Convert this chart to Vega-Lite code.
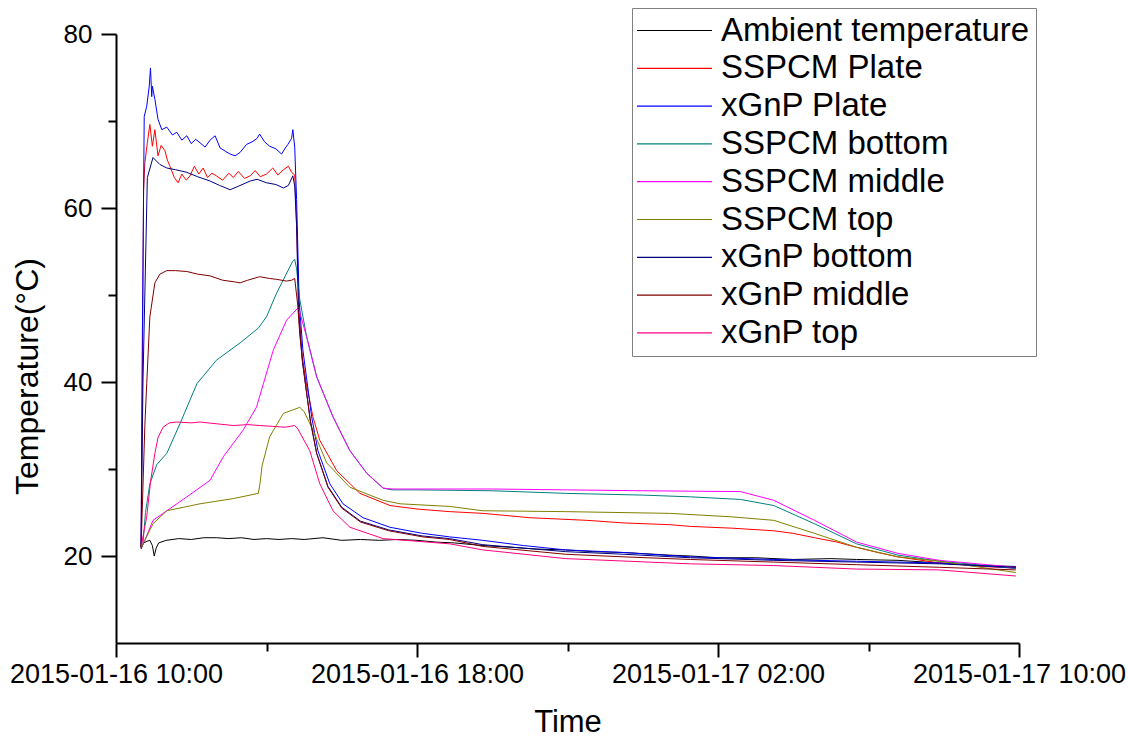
{
  "$schema": "https://vega.github.io/schema/vega-lite/v6.json",
  "autosize": {"type": "none"},
  "padding": {"left": 116, "top": 34, "right": 109, "bottom": 94},
  "width": 903,
  "height": 609,
  "background": "white",
  "config": {"font": "Liberation Sans", "view": {"stroke": null}},
  "data": {"values": [
    {"s":"Ambient temperature","t":"2015-01-16 10:40","v":20.8},
    {"s":"Ambient temperature","t":"2015-01-16 10:44","v":21.5},
    {"s":"Ambient temperature","t":"2015-01-16 10:50","v":21.7},
    {"s":"Ambient temperature","t":"2015-01-16 10:54","v":21.8},
    {"s":"Ambient temperature","t":"2015-01-16 10:58","v":21.2},
    {"s":"Ambient temperature","t":"2015-01-16 11:01","v":20.0},
    {"s":"Ambient temperature","t":"2015-01-16 11:04","v":20.9},
    {"s":"Ambient temperature","t":"2015-01-16 11:08","v":21.5},
    {"s":"Ambient temperature","t":"2015-01-16 11:20","v":21.8},
    {"s":"Ambient temperature","t":"2015-01-16 11:40","v":22.0},
    {"s":"Ambient temperature","t":"2015-01-16 12:00","v":21.9},
    {"s":"Ambient temperature","t":"2015-01-16 12:20","v":22.1},
    {"s":"Ambient temperature","t":"2015-01-16 12:40","v":22.1},
    {"s":"Ambient temperature","t":"2015-01-16 13:00","v":22.0},
    {"s":"Ambient temperature","t":"2015-01-16 13:20","v":22.1},
    {"s":"Ambient temperature","t":"2015-01-16 13:40","v":21.9},
    {"s":"Ambient temperature","t":"2015-01-16 14:00","v":22.0},
    {"s":"Ambient temperature","t":"2015-01-16 14:20","v":21.9},
    {"s":"Ambient temperature","t":"2015-01-16 14:40","v":22.0},
    {"s":"Ambient temperature","t":"2015-01-16 15:00","v":21.9},
    {"s":"Ambient temperature","t":"2015-01-16 15:30","v":22.1},
    {"s":"Ambient temperature","t":"2015-01-16 16:00","v":21.8},
    {"s":"Ambient temperature","t":"2015-01-16 16:30","v":21.9},
    {"s":"Ambient temperature","t":"2015-01-16 17:00","v":21.8},
    {"s":"Ambient temperature","t":"2015-01-16 17:30","v":21.9},
    {"s":"Ambient temperature","t":"2015-01-16 18:00","v":21.8},
    {"s":"Ambient temperature","t":"2015-01-16 18:30","v":21.6},
    {"s":"Ambient temperature","t":"2015-01-16 19:00","v":21.5},
    {"s":"Ambient temperature","t":"2015-01-16 19:45","v":21.2},
    {"s":"Ambient temperature","t":"2015-01-16 20:30","v":21.0},
    {"s":"Ambient temperature","t":"2015-01-16 21:10","v":20.8},
    {"s":"Ambient temperature","t":"2015-01-16 21:57","v":20.7},
    {"s":"Ambient temperature","t":"2015-01-16 22:40","v":20.5},
    {"s":"Ambient temperature","t":"2015-01-16 23:30","v":20.4},
    {"s":"Ambient temperature","t":"2015-01-17 00:43","v":20.1},
    {"s":"Ambient temperature","t":"2015-01-17 01:16","v":20.0},
    {"s":"Ambient temperature","t":"2015-01-17 02:00","v":19.8},
    {"s":"Ambient temperature","t":"2015-01-17 03:00","v":19.8},
    {"s":"Ambient temperature","t":"2015-01-17 04:00","v":19.6},
    {"s":"Ambient temperature","t":"2015-01-17 05:00","v":19.7},
    {"s":"Ambient temperature","t":"2015-01-17 05:41","v":19.6},
    {"s":"Ambient temperature","t":"2015-01-17 06:47","v":19.5},
    {"s":"Ambient temperature","t":"2015-01-17 07:53","v":19.2},
    {"s":"Ambient temperature","t":"2015-01-17 09:00","v":18.9},
    {"s":"Ambient temperature","t":"2015-01-17 09:55","v":18.8},

    {"s":"SSPCM Plate","t":"2015-01-16 10:40","v":21.0},
    {"s":"SSPCM Plate","t":"2015-01-16 10:42","v":40.0},
    {"s":"SSPCM Plate","t":"2015-01-16 10:44","v":62.0},
    {"s":"SSPCM Plate","t":"2015-01-16 10:46","v":65.2},
    {"s":"SSPCM Plate","t":"2015-01-16 10:50","v":67.5},
    {"s":"SSPCM Plate","t":"2015-01-16 10:54","v":69.6},
    {"s":"SSPCM Plate","t":"2015-01-16 10:58","v":67.1},
    {"s":"SSPCM Plate","t":"2015-01-16 11:02","v":69.0},
    {"s":"SSPCM Plate","t":"2015-01-16 11:07","v":66.0},
    {"s":"SSPCM Plate","t":"2015-01-16 11:12","v":67.2},
    {"s":"SSPCM Plate","t":"2015-01-16 11:18","v":66.6},
    {"s":"SSPCM Plate","t":"2015-01-16 11:22","v":65.5},
    {"s":"SSPCM Plate","t":"2015-01-16 11:26","v":64.8},
    {"s":"SSPCM Plate","t":"2015-01-16 11:33","v":63.5},
    {"s":"SSPCM Plate","t":"2015-01-16 11:39","v":62.9},
    {"s":"SSPCM Plate","t":"2015-01-16 11:45","v":63.9},
    {"s":"SSPCM Plate","t":"2015-01-16 11:52","v":63.2},
    {"s":"SSPCM Plate","t":"2015-01-16 11:58","v":63.7},
    {"s":"SSPCM Plate","t":"2015-01-16 12:05","v":64.8},
    {"s":"SSPCM Plate","t":"2015-01-16 12:12","v":63.9},
    {"s":"SSPCM Plate","t":"2015-01-16 12:19","v":64.6},
    {"s":"SSPCM Plate","t":"2015-01-16 12:26","v":63.5},
    {"s":"SSPCM Plate","t":"2015-01-16 12:33","v":64.0},
    {"s":"SSPCM Plate","t":"2015-01-16 12:40","v":63.7},
    {"s":"SSPCM Plate","t":"2015-01-16 12:50","v":63.2},
    {"s":"SSPCM Plate","t":"2015-01-16 13:00","v":64.0},
    {"s":"SSPCM Plate","t":"2015-01-16 13:07","v":63.5},
    {"s":"SSPCM Plate","t":"2015-01-16 13:15","v":64.2},
    {"s":"SSPCM Plate","t":"2015-01-16 13:25","v":63.4},
    {"s":"SSPCM Plate","t":"2015-01-16 13:34","v":63.7},
    {"s":"SSPCM Plate","t":"2015-01-16 13:42","v":64.3},
    {"s":"SSPCM Plate","t":"2015-01-16 13:50","v":63.6},
    {"s":"SSPCM Plate","t":"2015-01-16 14:00","v":63.9},
    {"s":"SSPCM Plate","t":"2015-01-16 14:10","v":64.6},
    {"s":"SSPCM Plate","t":"2015-01-16 14:18","v":63.8},
    {"s":"SSPCM Plate","t":"2015-01-16 14:27","v":64.4},
    {"s":"SSPCM Plate","t":"2015-01-16 14:35","v":64.8},
    {"s":"SSPCM Plate","t":"2015-01-16 14:40","v":64.1},
    {"s":"SSPCM Plate","t":"2015-01-16 14:45","v":63.8},
    {"s":"SSPCM Plate","t":"2015-01-16 14:48","v":58.0},
    {"s":"SSPCM Plate","t":"2015-01-16 14:52","v":48.0},
    {"s":"SSPCM Plate","t":"2015-01-16 14:57","v":43.0},
    {"s":"SSPCM Plate","t":"2015-01-16 15:03","v":40.0},
    {"s":"SSPCM Plate","t":"2015-01-16 15:14","v":36.0},
    {"s":"SSPCM Plate","t":"2015-01-16 15:25","v":33.3},
    {"s":"SSPCM Plate","t":"2015-01-16 15:52","v":29.8},
    {"s":"SSPCM Plate","t":"2015-01-16 16:29","v":27.2},
    {"s":"SSPCM Plate","t":"2015-01-16 17:17","v":25.8},
    {"s":"SSPCM Plate","t":"2015-01-16 18:00","v":25.4},
    {"s":"SSPCM Plate","t":"2015-01-16 18:52","v":25.1},
    {"s":"SSPCM Plate","t":"2015-01-16 19:45","v":24.9},
    {"s":"SSPCM Plate","t":"2015-01-16 21:00","v":24.4},
    {"s":"SSPCM Plate","t":"2015-01-16 22:31","v":24.1},
    {"s":"SSPCM Plate","t":"2015-01-16 23:30","v":23.8},
    {"s":"SSPCM Plate","t":"2015-01-17 00:43","v":23.6},
    {"s":"SSPCM Plate","t":"2015-01-17 01:16","v":23.4},
    {"s":"SSPCM Plate","t":"2015-01-17 02:22","v":23.2},
    {"s":"SSPCM Plate","t":"2015-01-17 03:29","v":22.9},
    {"s":"SSPCM Plate","t":"2015-01-17 04:00","v":22.6},
    {"s":"SSPCM Plate","t":"2015-01-17 04:34","v":22.1},
    {"s":"SSPCM Plate","t":"2015-01-17 05:10","v":21.6},
    {"s":"SSPCM Plate","t":"2015-01-17 05:41","v":21.0},
    {"s":"SSPCM Plate","t":"2015-01-17 06:15","v":20.4},
    {"s":"SSPCM Plate","t":"2015-01-17 06:47","v":19.9},
    {"s":"SSPCM Plate","t":"2015-01-17 07:53","v":19.2},
    {"s":"SSPCM Plate","t":"2015-01-17 09:00","v":18.8},
    {"s":"SSPCM Plate","t":"2015-01-17 09:55","v":18.6},

    {"s":"xGnP Plate","t":"2015-01-16 10:40","v":21.0},
    {"s":"xGnP Plate","t":"2015-01-16 10:42","v":45.0},
    {"s":"xGnP Plate","t":"2015-01-16 10:45","v":70.5},
    {"s":"xGnP Plate","t":"2015-01-16 10:49","v":71.7},
    {"s":"xGnP Plate","t":"2015-01-16 10:53","v":74.0},
    {"s":"xGnP Plate","t":"2015-01-16 10:55","v":76.1},
    {"s":"xGnP Plate","t":"2015-01-16 10:57","v":72.8},
    {"s":"xGnP Plate","t":"2015-01-16 10:58","v":74.0},
    {"s":"xGnP Plate","t":"2015-01-16 11:02","v":72.5},
    {"s":"xGnP Plate","t":"2015-01-16 11:07","v":70.2},
    {"s":"xGnP Plate","t":"2015-01-16 11:13","v":69.0},
    {"s":"xGnP Plate","t":"2015-01-16 11:21","v":69.3},
    {"s":"xGnP Plate","t":"2015-01-16 11:30","v":68.4},
    {"s":"xGnP Plate","t":"2015-01-16 11:37","v":68.7},
    {"s":"xGnP Plate","t":"2015-01-16 11:45","v":67.8},
    {"s":"xGnP Plate","t":"2015-01-16 11:53","v":68.3},
    {"s":"xGnP Plate","t":"2015-01-16 12:00","v":67.4},
    {"s":"xGnP Plate","t":"2015-01-16 12:07","v":67.9},
    {"s":"xGnP Plate","t":"2015-01-16 12:14","v":67.5},
    {"s":"xGnP Plate","t":"2015-01-16 12:22","v":67.0},
    {"s":"xGnP Plate","t":"2015-01-16 12:30","v":67.8},
    {"s":"xGnP Plate","t":"2015-01-16 12:38","v":68.3},
    {"s":"xGnP Plate","t":"2015-01-16 12:46","v":66.9},
    {"s":"xGnP Plate","t":"2015-01-16 12:55","v":66.5},
    {"s":"xGnP Plate","t":"2015-01-16 13:02","v":66.2},
    {"s":"xGnP Plate","t":"2015-01-16 13:10","v":66.0},
    {"s":"xGnP Plate","t":"2015-01-16 13:18","v":66.4},
    {"s":"xGnP Plate","t":"2015-01-16 13:28","v":67.3},
    {"s":"xGnP Plate","t":"2015-01-16 13:37","v":67.6},
    {"s":"xGnP Plate","t":"2015-01-16 13:45","v":68.0},
    {"s":"xGnP Plate","t":"2015-01-16 13:49","v":68.5},
    {"s":"xGnP Plate","t":"2015-01-16 13:57","v":67.6},
    {"s":"xGnP Plate","t":"2015-01-16 14:05","v":67.1},
    {"s":"xGnP Plate","t":"2015-01-16 14:15","v":66.8},
    {"s":"xGnP Plate","t":"2015-01-16 14:24","v":66.2},
    {"s":"xGnP Plate","t":"2015-01-16 14:30","v":66.9},
    {"s":"xGnP Plate","t":"2015-01-16 14:34","v":67.3},
    {"s":"xGnP Plate","t":"2015-01-16 14:40","v":68.0},
    {"s":"xGnP Plate","t":"2015-01-16 14:42","v":69.0},
    {"s":"xGnP Plate","t":"2015-01-16 14:45","v":67.0},
    {"s":"xGnP Plate","t":"2015-01-16 14:48","v":61.0},
    {"s":"xGnP Plate","t":"2015-01-16 14:52","v":49.4},
    {"s":"xGnP Plate","t":"2015-01-16 14:58","v":43.7},
    {"s":"xGnP Plate","t":"2015-01-16 15:12","v":36.0},
    {"s":"xGnP Plate","t":"2015-01-16 15:22","v":32.1},
    {"s":"xGnP Plate","t":"2015-01-16 15:41","v":28.3},
    {"s":"xGnP Plate","t":"2015-01-16 16:02","v":26.0},
    {"s":"xGnP Plate","t":"2015-01-16 16:34","v":24.4},
    {"s":"xGnP Plate","t":"2015-01-16 17:17","v":23.3},
    {"s":"xGnP Plate","t":"2015-01-16 18:09","v":22.6},
    {"s":"xGnP Plate","t":"2015-01-16 18:52","v":22.2},
    {"s":"xGnP Plate","t":"2015-01-16 19:45","v":21.8},
    {"s":"xGnP Plate","t":"2015-01-16 20:50","v":21.2},
    {"s":"xGnP Plate","t":"2015-01-16 21:57","v":20.7},
    {"s":"xGnP Plate","t":"2015-01-16 23:30","v":20.4},
    {"s":"xGnP Plate","t":"2015-01-17 01:16","v":19.9},
    {"s":"xGnP Plate","t":"2015-01-17 03:29","v":19.6},
    {"s":"xGnP Plate","t":"2015-01-17 05:41","v":19.4},
    {"s":"xGnP Plate","t":"2015-01-17 07:53","v":19.2},
    {"s":"xGnP Plate","t":"2015-01-17 09:55","v":18.6},

    {"s":"SSPCM bottom","t":"2015-01-16 10:40","v":21.0},
    {"s":"SSPCM bottom","t":"2015-01-16 10:43","v":21.4},
    {"s":"SSPCM bottom","t":"2015-01-16 10:47","v":25.0},
    {"s":"SSPCM bottom","t":"2015-01-16 10:54","v":28.3},
    {"s":"SSPCM bottom","t":"2015-01-16 11:05","v":30.5},
    {"s":"SSPCM bottom","t":"2015-01-16 11:21","v":31.8},
    {"s":"SSPCM bottom","t":"2015-01-16 11:42","v":35.2},
    {"s":"SSPCM bottom","t":"2015-01-16 12:09","v":39.8},
    {"s":"SSPCM bottom","t":"2015-01-16 12:40","v":42.5},
    {"s":"SSPCM bottom","t":"2015-01-16 13:18","v":44.5},
    {"s":"SSPCM bottom","t":"2015-01-16 13:47","v":46.2},
    {"s":"SSPCM bottom","t":"2015-01-16 14:00","v":47.5},
    {"s":"SSPCM bottom","t":"2015-01-16 14:16","v":50.2},
    {"s":"SSPCM bottom","t":"2015-01-16 14:30","v":52.2},
    {"s":"SSPCM bottom","t":"2015-01-16 14:42","v":53.9},
    {"s":"SSPCM bottom","t":"2015-01-16 14:45","v":54.1},
    {"s":"SSPCM bottom","t":"2015-01-16 14:48","v":53.0},
    {"s":"SSPCM bottom","t":"2015-01-16 14:53","v":49.5},
    {"s":"SSPCM bottom","t":"2015-01-16 15:04","v":45.2},
    {"s":"SSPCM bottom","t":"2015-01-16 15:20","v":40.6},
    {"s":"SSPCM bottom","t":"2015-01-16 15:46","v":36.0},
    {"s":"SSPCM bottom","t":"2015-01-16 16:13","v":32.1},
    {"s":"SSPCM bottom","t":"2015-01-16 16:40","v":29.5},
    {"s":"SSPCM bottom","t":"2015-01-16 17:06","v":27.8},
    {"s":"SSPCM bottom","t":"2015-01-16 17:20","v":27.6},
    {"s":"SSPCM bottom","t":"2015-01-16 18:00","v":27.6},
    {"s":"SSPCM bottom","t":"2015-01-16 20:00","v":27.5},
    {"s":"SSPCM bottom","t":"2015-01-16 21:57","v":27.2},
    {"s":"SSPCM bottom","t":"2015-01-17 00:00","v":27.0},
    {"s":"SSPCM bottom","t":"2015-01-17 01:16","v":26.8},
    {"s":"SSPCM bottom","t":"2015-01-17 02:36","v":26.5},
    {"s":"SSPCM bottom","t":"2015-01-17 03:29","v":25.8},
    {"s":"SSPCM bottom","t":"2015-01-17 04:34","v":23.7},
    {"s":"SSPCM bottom","t":"2015-01-17 05:41","v":21.4},
    {"s":"SSPCM bottom","t":"2015-01-17 06:47","v":20.1},
    {"s":"SSPCM bottom","t":"2015-01-17 07:53","v":19.4},
    {"s":"SSPCM bottom","t":"2015-01-17 09:55","v":18.6},

    {"s":"SSPCM middle","t":"2015-01-16 10:40","v":21.0},
    {"s":"SSPCM middle","t":"2015-01-16 10:46","v":21.8},
    {"s":"SSPCM middle","t":"2015-01-16 10:59","v":24.1},
    {"s":"SSPCM middle","t":"2015-01-16 11:21","v":25.2},
    {"s":"SSPCM middle","t":"2015-01-16 11:53","v":26.8},
    {"s":"SSPCM middle","t":"2015-01-16 12:30","v":28.7},
    {"s":"SSPCM middle","t":"2015-01-16 12:51","v":31.4},
    {"s":"SSPCM middle","t":"2015-01-16 13:23","v":34.5},
    {"s":"SSPCM middle","t":"2015-01-16 13:44","v":37.1},
    {"s":"SSPCM middle","t":"2015-01-16 13:55","v":39.8},
    {"s":"SSPCM middle","t":"2015-01-16 14:11","v":43.7},
    {"s":"SSPCM middle","t":"2015-01-16 14:32","v":47.1},
    {"s":"SSPCM middle","t":"2015-01-16 14:50","v":48.5},
    {"s":"SSPCM middle","t":"2015-01-16 14:53","v":48.0},
    {"s":"SSPCM middle","t":"2015-01-16 15:04","v":45.2},
    {"s":"SSPCM middle","t":"2015-01-16 15:20","v":40.6},
    {"s":"SSPCM middle","t":"2015-01-16 15:46","v":36.0},
    {"s":"SSPCM middle","t":"2015-01-16 16:13","v":32.1},
    {"s":"SSPCM middle","t":"2015-01-16 16:40","v":29.5},
    {"s":"SSPCM middle","t":"2015-01-16 17:06","v":27.8},
    {"s":"SSPCM middle","t":"2015-01-16 17:20","v":27.7},
    {"s":"SSPCM middle","t":"2015-01-16 18:00","v":27.7},
    {"s":"SSPCM middle","t":"2015-01-16 20:00","v":27.7},
    {"s":"SSPCM middle","t":"2015-01-16 22:00","v":27.6},
    {"s":"SSPCM middle","t":"2015-01-17 00:00","v":27.5},
    {"s":"SSPCM middle","t":"2015-01-17 02:36","v":27.4},
    {"s":"SSPCM middle","t":"2015-01-17 03:29","v":26.4},
    {"s":"SSPCM middle","t":"2015-01-17 04:34","v":24.1},
    {"s":"SSPCM middle","t":"2015-01-17 05:41","v":21.6},
    {"s":"SSPCM middle","t":"2015-01-17 06:47","v":20.3},
    {"s":"SSPCM middle","t":"2015-01-17 07:53","v":19.5},
    {"s":"SSPCM middle","t":"2015-01-17 09:55","v":18.7},

    {"s":"SSPCM top","t":"2015-01-16 10:40","v":21.0},
    {"s":"SSPCM top","t":"2015-01-16 10:46","v":21.8},
    {"s":"SSPCM top","t":"2015-01-16 10:59","v":23.7},
    {"s":"SSPCM top","t":"2015-01-16 11:21","v":25.2},
    {"s":"SSPCM top","t":"2015-01-16 12:14","v":26.0},
    {"s":"SSPCM top","t":"2015-01-16 13:07","v":26.6},
    {"s":"SSPCM top","t":"2015-01-16 13:47","v":27.2},
    {"s":"SSPCM top","t":"2015-01-16 13:50","v":28.5},
    {"s":"SSPCM top","t":"2015-01-16 13:53","v":30.4},
    {"s":"SSPCM top","t":"2015-01-16 14:05","v":33.7},
    {"s":"SSPCM top","t":"2015-01-16 14:27","v":36.4},
    {"s":"SSPCM top","t":"2015-01-16 14:50","v":37.0},
    {"s":"SSPCM top","t":"2015-01-16 14:53","v":37.1},
    {"s":"SSPCM top","t":"2015-01-16 15:00","v":36.6},
    {"s":"SSPCM top","t":"2015-01-16 15:14","v":34.5},
    {"s":"SSPCM top","t":"2015-01-16 15:36","v":30.7},
    {"s":"SSPCM top","t":"2015-01-16 16:13","v":27.9},
    {"s":"SSPCM top","t":"2015-01-16 17:06","v":26.4},
    {"s":"SSPCM top","t":"2015-01-16 17:33","v":26.0},
    {"s":"SSPCM top","t":"2015-01-16 18:52","v":25.7},
    {"s":"SSPCM top","t":"2015-01-16 19:45","v":25.2},
    {"s":"SSPCM top","t":"2015-01-16 21:57","v":25.1},
    {"s":"SSPCM top","t":"2015-01-17 00:43","v":24.9},
    {"s":"SSPCM top","t":"2015-01-17 02:22","v":24.5},
    {"s":"SSPCM top","t":"2015-01-17 03:29","v":24.1},
    {"s":"SSPCM top","t":"2015-01-17 04:34","v":22.6},
    {"s":"SSPCM top","t":"2015-01-17 05:41","v":21.0},
    {"s":"SSPCM top","t":"2015-01-17 06:47","v":19.9},
    {"s":"SSPCM top","t":"2015-01-17 07:53","v":19.4},
    {"s":"SSPCM top","t":"2015-01-17 09:55","v":18.1},

    {"s":"xGnP bottom","t":"2015-01-16 10:40","v":21.0},
    {"s":"xGnP bottom","t":"2015-01-16 10:43","v":40.0},
    {"s":"xGnP bottom","t":"2015-01-16 10:50","v":63.5},
    {"s":"xGnP bottom","t":"2015-01-16 10:59","v":65.8},
    {"s":"xGnP bottom","t":"2015-01-16 11:10","v":65.0},
    {"s":"xGnP bottom","t":"2015-01-16 11:21","v":64.6},
    {"s":"xGnP bottom","t":"2015-01-16 11:35","v":64.4},
    {"s":"xGnP bottom","t":"2015-01-16 11:53","v":64.1},
    {"s":"xGnP bottom","t":"2015-01-16 12:10","v":63.6},
    {"s":"xGnP bottom","t":"2015-01-16 12:30","v":63.1},
    {"s":"xGnP bottom","t":"2015-01-16 12:45","v":62.6},
    {"s":"xGnP bottom","t":"2015-01-16 13:02","v":62.1},
    {"s":"xGnP bottom","t":"2015-01-16 13:15","v":62.5},
    {"s":"xGnP bottom","t":"2015-01-16 13:34","v":63.1},
    {"s":"xGnP bottom","t":"2015-01-16 13:45","v":63.3},
    {"s":"xGnP bottom","t":"2015-01-16 14:00","v":62.9},
    {"s":"xGnP bottom","t":"2015-01-16 14:15","v":62.7},
    {"s":"xGnP bottom","t":"2015-01-16 14:27","v":62.3},
    {"s":"xGnP bottom","t":"2015-01-16 14:35","v":62.6},
    {"s":"xGnP bottom","t":"2015-01-16 14:42","v":63.7},
    {"s":"xGnP bottom","t":"2015-01-16 14:45","v":62.5},
    {"s":"xGnP bottom","t":"2015-01-16 14:48","v":58.0},
    {"s":"xGnP bottom","t":"2015-01-16 14:51","v":48.0},
    {"s":"xGnP bottom","t":"2015-01-16 14:57","v":42.5},
    {"s":"xGnP bottom","t":"2015-01-16 15:10","v":35.5},
    {"s":"xGnP bottom","t":"2015-01-16 15:20","v":31.8},
    {"s":"xGnP bottom","t":"2015-01-16 15:38","v":28.0},
    {"s":"xGnP bottom","t":"2015-01-16 16:00","v":25.6},
    {"s":"xGnP bottom","t":"2015-01-16 16:30","v":24.0},
    {"s":"xGnP bottom","t":"2015-01-16 17:15","v":23.0},
    {"s":"xGnP bottom","t":"2015-01-16 18:09","v":22.3},
    {"s":"xGnP bottom","t":"2015-01-16 18:52","v":22.0},
    {"s":"xGnP bottom","t":"2015-01-16 19:45","v":21.3},
    {"s":"xGnP bottom","t":"2015-01-16 21:57","v":20.5},
    {"s":"xGnP bottom","t":"2015-01-16 23:30","v":20.2},
    {"s":"xGnP bottom","t":"2015-01-17 01:16","v":19.8},
    {"s":"xGnP bottom","t":"2015-01-17 03:29","v":19.5},
    {"s":"xGnP bottom","t":"2015-01-17 05:41","v":19.3},
    {"s":"xGnP bottom","t":"2015-01-17 07:53","v":19.1},
    {"s":"xGnP bottom","t":"2015-01-17 09:55","v":18.7},

    {"s":"xGnP middle","t":"2015-01-16 10:40","v":21.0},
    {"s":"xGnP middle","t":"2015-01-16 10:46","v":35.0},
    {"s":"xGnP middle","t":"2015-01-16 10:49","v":39.8},
    {"s":"xGnP middle","t":"2015-01-16 10:54","v":47.5},
    {"s":"xGnP middle","t":"2015-01-16 11:02","v":51.4},
    {"s":"xGnP middle","t":"2015-01-16 11:10","v":52.4},
    {"s":"xGnP middle","t":"2015-01-16 11:21","v":52.8},
    {"s":"xGnP middle","t":"2015-01-16 11:35","v":52.8},
    {"s":"xGnP middle","t":"2015-01-16 11:53","v":52.7},
    {"s":"xGnP middle","t":"2015-01-16 12:10","v":52.4},
    {"s":"xGnP middle","t":"2015-01-16 12:30","v":52.2},
    {"s":"xGnP middle","t":"2015-01-16 12:50","v":51.7},
    {"s":"xGnP middle","t":"2015-01-16 13:10","v":51.5},
    {"s":"xGnP middle","t":"2015-01-16 13:18","v":51.4},
    {"s":"xGnP middle","t":"2015-01-16 13:30","v":51.7},
    {"s":"xGnP middle","t":"2015-01-16 13:49","v":52.1},
    {"s":"xGnP middle","t":"2015-01-16 14:05","v":51.9},
    {"s":"xGnP middle","t":"2015-01-16 14:16","v":51.8},
    {"s":"xGnP middle","t":"2015-01-16 14:32","v":51.6},
    {"s":"xGnP middle","t":"2015-01-16 14:40","v":51.7},
    {"s":"xGnP middle","t":"2015-01-16 14:45","v":51.9},
    {"s":"xGnP middle","t":"2015-01-16 14:50","v":48.7},
    {"s":"xGnP middle","t":"2015-01-16 14:53","v":45.5},
    {"s":"xGnP middle","t":"2015-01-16 14:58","v":42.0},
    {"s":"xGnP middle","t":"2015-01-16 15:10","v":35.5},
    {"s":"xGnP middle","t":"2015-01-16 15:20","v":31.8},
    {"s":"xGnP middle","t":"2015-01-16 15:38","v":27.9},
    {"s":"xGnP middle","t":"2015-01-16 16:00","v":25.5},
    {"s":"xGnP middle","t":"2015-01-16 16:30","v":23.9},
    {"s":"xGnP middle","t":"2015-01-16 17:15","v":22.9},
    {"s":"xGnP middle","t":"2015-01-16 18:09","v":22.2},
    {"s":"xGnP middle","t":"2015-01-16 18:52","v":21.9},
    {"s":"xGnP middle","t":"2015-01-16 19:45","v":21.1},
    {"s":"xGnP middle","t":"2015-01-16 21:57","v":20.2},
    {"s":"xGnP middle","t":"2015-01-16 23:30","v":19.9},
    {"s":"xGnP middle","t":"2015-01-17 01:16","v":19.6},
    {"s":"xGnP middle","t":"2015-01-17 03:29","v":19.3},
    {"s":"xGnP middle","t":"2015-01-17 05:41","v":19.0},
    {"s":"xGnP middle","t":"2015-01-17 07:53","v":18.7},
    {"s":"xGnP middle","t":"2015-01-17 09:55","v":18.4},

    {"s":"xGnP top","t":"2015-01-16 10:40","v":21.0},
    {"s":"xGnP top","t":"2015-01-16 10:45","v":23.0},
    {"s":"xGnP top","t":"2015-01-16 10:49","v":24.5},
    {"s":"xGnP top","t":"2015-01-16 10:55","v":28.5},
    {"s":"xGnP top","t":"2015-01-16 11:02","v":31.8},
    {"s":"xGnP top","t":"2015-01-16 11:07","v":33.6},
    {"s":"xGnP top","t":"2015-01-16 11:15","v":34.8},
    {"s":"xGnP top","t":"2015-01-16 11:25","v":35.3},
    {"s":"xGnP top","t":"2015-01-16 11:37","v":35.4},
    {"s":"xGnP top","t":"2015-01-16 12:00","v":35.3},
    {"s":"xGnP top","t":"2015-01-16 12:14","v":35.4},
    {"s":"xGnP top","t":"2015-01-16 12:40","v":35.2},
    {"s":"xGnP top","t":"2015-01-16 13:07","v":35.0},
    {"s":"xGnP top","t":"2015-01-16 13:30","v":35.1},
    {"s":"xGnP top","t":"2015-01-16 13:49","v":35.0},
    {"s":"xGnP top","t":"2015-01-16 14:10","v":34.9},
    {"s":"xGnP top","t":"2015-01-16 14:30","v":34.8},
    {"s":"xGnP top","t":"2015-01-16 14:45","v":35.0},
    {"s":"xGnP top","t":"2015-01-16 14:50","v":34.6},
    {"s":"xGnP top","t":"2015-01-16 15:09","v":32.1},
    {"s":"xGnP top","t":"2015-01-16 15:25","v":28.3},
    {"s":"xGnP top","t":"2015-01-16 15:46","v":25.2},
    {"s":"xGnP top","t":"2015-01-16 16:13","v":23.3},
    {"s":"xGnP top","t":"2015-01-16 17:06","v":22.0},
    {"s":"xGnP top","t":"2015-01-16 18:52","v":21.4},
    {"s":"xGnP top","t":"2015-01-16 19:45","v":20.7},
    {"s":"xGnP top","t":"2015-01-16 21:57","v":19.7},
    {"s":"xGnP top","t":"2015-01-17 01:16","v":19.1},
    {"s":"xGnP top","t":"2015-01-17 03:29","v":18.9},
    {"s":"xGnP top","t":"2015-01-17 05:41","v":18.5},
    {"s":"xGnP top","t":"2015-01-17 07:53","v":18.4},
    {"s":"xGnP top","t":"2015-01-17 09:55","v":17.7}
  ]},
  "layer": [
    {
      "mark": {"type": "line", "strokeWidth": 1, "interpolate": "linear"},
      "encoding": {
        "x": {
          "field": "t", "type": "temporal",
          "scale": {"domain": [{"year": 2015, "month": 1, "date": 16, "hours": 10}, {"year": 2015, "month": 1, "date": 17, "hours": 10}], "nice": false},
          "axis": {
            "orient": "bottom",
            "values": [
              {"year": 2015, "month": 1, "date": 16, "hours": 10},
              {"year": 2015, "month": 1, "date": 16, "hours": 18},
              {"year": 2015, "month": 1, "date": 17, "hours": 2},
              {"year": 2015, "month": 1, "date": 17, "hours": 10}
            ],
            "format": "%Y-%m-%d %H:%M",
            "labelFont": "Liberation Sans", "labelFontSize": 27, "labelColor": "black",
            "labelPadding": 4, "labelOverlap": false, "labelFlush": false, "labelLimit": 400,
            "tickSize": 14, "tickWidth": 2, "tickColor": "black",
            "domainWidth": 2, "domainColor": "black", "grid": false,
            "title": "Time", "titleFont": "Liberation Sans", "titleFontSize": 31, "titleFontWeight": "normal", "titleColor": "black",
            "titleX": 451.5, "titleY": 88, "titleBaseline": "alphabetic", "titleAlign": "center"
          }
        },
        "y": {
          "field": "v", "type": "quantitative",
          "scale": {"domain": [10, 80], "nice": false, "zero": false},
          "axis": {
            "orient": "left",
            "values": [20, 40, 60, 80],
            "labelFont": "Liberation Sans", "labelFontSize": 26, "labelColor": "black",
            "labelPadding": 9,
            "tickSize": 15, "tickWidth": 2, "tickColor": "black",
            "domainWidth": 2, "domainColor": "black", "grid": false,
            "title": "Temperature(°C)", "titleFont": "Liberation Sans", "titleFontSize": 32, "titleFontWeight": "normal", "titleColor": "black",
            "titleAngle": -90, "titleX": -79, "titleY": 342, "titleBaseline": "alphabetic", "titleAlign": "center"
          }
        },
        "color": {
          "field": "s", "type": "nominal",
          "scale": {
            "domain": ["Ambient temperature", "SSPCM Plate", "xGnP Plate", "SSPCM bottom", "SSPCM middle", "SSPCM top", "xGnP bottom", "xGnP middle", "xGnP top"],
            "range": ["#000000", "#ff0000", "#0000ff", "#008080", "#ff00ff", "#808000", "#000080", "#800000", "#ff0080"]
          },
          "legend": {
            "orient": "none", "legendX": 516, "legendY": -26,
            "title": null,
            "symbolType": "M-5,0H5", "symbolSize": 225, "symbolStrokeWidth": 1.2, "symbolOffset": 20,
            "labelFont": "Liberation Sans", "labelFontSize": 33, "labelColor": "black", "labelLimit": 500,
            "labelOffset": 30, "rowPadding": 3.8, "padding": 6,
            "strokeColor": "#808080", "fillColor": "white"
          }
        }
      }
    },
    {
      "mark": {"type": "point", "opacity": 0},
      "encoding": {
        "x": {
          "field": "t", "type": "temporal",
          "scale": {"domain": [{"year": 2015, "month": 1, "date": 16, "hours": 10}, {"year": 2015, "month": 1, "date": 17, "hours": 10}], "nice": false},
          "axis": {
            "orient": "bottom",
            "values": [
              {"year": 2015, "month": 1, "date": 16, "hours": 14},
              {"year": 2015, "month": 1, "date": 16, "hours": 22},
              {"year": 2015, "month": 1, "date": 17, "hours": 6}
            ],
            "labels": false, "domain": false, "grid": false,
            "tickSize": 8, "tickWidth": 2, "tickColor": "black", "title": null
          }
        },
        "y": {
          "field": "v", "type": "quantitative",
          "scale": {"domain": [10, 80], "nice": false, "zero": false},
          "axis": {
            "orient": "left",
            "values": [30, 50, 70],
            "labels": false, "domain": false, "grid": false,
            "tickSize": 8, "tickWidth": 2, "tickColor": "black", "title": null
          }
        }
      }
    }
  ],
  "resolve": {"axis": {"x": "independent", "y": "independent"}}
}
